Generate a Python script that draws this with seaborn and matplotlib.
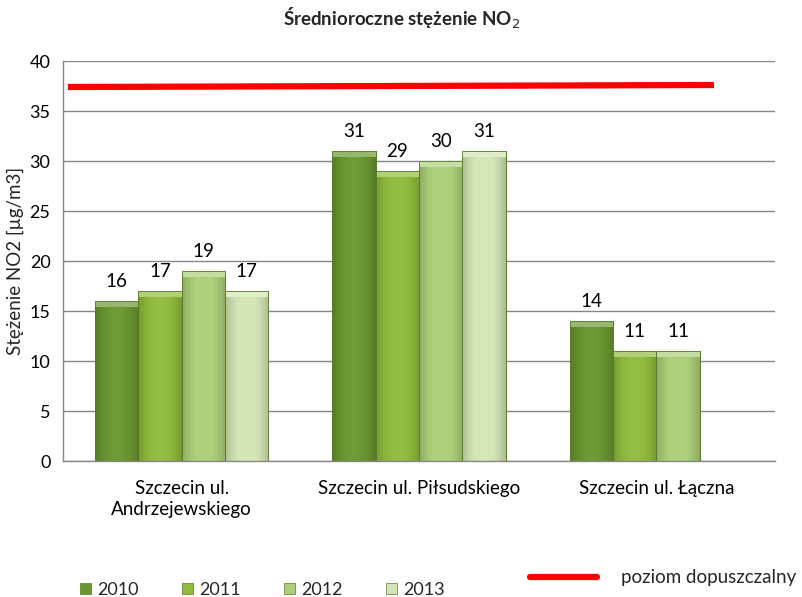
import numpy as np
import pandas as pd
import matplotlib
matplotlib.use("Agg")
import matplotlib.pyplot as plt
import seaborn as sns
from matplotlib.lines import Line2D
from matplotlib.patches import Rectangle

# ---- data ----
stations = ["Szczecin ul.\nAndrzejewskiego", "Szczecin ul. Piłsudskiego", "Szczecin ul. Łączna"]
years = ["2010", "2011", "2012", "2013"]
s_andrz = [16, 17, 19, 17]
s_pils = [31, 29, 30, 31]
s_lacz = [14, 11, 11, np.nan]
limit_line = [37.4, 37.6]  # red "poziom dopuszczalny" line (start, end)
colors = ["#6a9630", "#8fbb3c", "#abcf78", "#d3e5b5"]

rows = []
for st, vals in zip(stations, [s_andrz, s_pils, s_lacz]):
    for y, v in zip(years, vals):
        rows.append({"station": st, "year": y, "value": v})
df = pd.DataFrame(rows)

sns.set_theme(style="white")
plt.rcParams["font.family"] = ["Lato", "DejaVu Sans"]

fig = plt.figure(figsize=(8.03, 5.97), dpi=100)
ax = fig.add_axes([63 / 803, 1 - 461 / 597, 712 / 803, 400 / 597])

sns.barplot(data=df, x="station", y="value", hue="year", order=stations,
            hue_order=years, palette=colors, width=0.73, dodge=True,
            edgecolor="#5a7a2a", linewidth=0.6, legend=False, ax=ax, saturation=1)

# gradient / bevel look
def shade(c, f):
    c = np.array(matplotlib.colors.to_rgb(c))
    if f < 0:
        return c * (1 + f)
    return c + (1 - c) * f

for cont, col in zip(ax.containers, colors):
    for p in cont.patches:
        h = p.get_height()
        if not np.isfinite(h) or h <= 0:
            continue
        x0, w = p.get_x(), p.get_width()
        n = 64
        t = np.linspace(0, 1, n)
        prof = 1 - 4 * (t - 0.5) ** 2  # lighter in the middle
        img = np.array([shade(col, -0.18 + 0.22 * v) for v in prof])[None, :, :]
        im = ax.imshow(img, extent=[x0, x0 + w, 0, h], aspect="auto",
                       zorder=p.get_zorder() + 0.1, interpolation="bilinear")
        im.set_clip_path(p)
        # top bevel
        ax.add_patch(Rectangle((x0, h - 0.6), w, 0.6, facecolor=shade(col, 0.3),
                               edgecolor="none", zorder=p.get_zorder() + 0.2))
        ax.add_patch(Rectangle((x0, 0), w, h, facecolor="none", edgecolor="#5a7a2a",
                               linewidth=0.6, zorder=p.get_zorder() + 0.3))

for cont in ax.containers:
    labels = ["" if not np.isfinite(p.get_height()) else f"{p.get_height():.0f}" for p in cont.patches]
    ax.bar_label(cont, labels=labels, padding=8, fontsize=13.5, color="#000000")

# limit line
ax.plot([-0.479, 2.243], limit_line, color="#ff0000", linewidth=4.5, solid_capstyle="butt",
        zorder=5)

ax.set_xlim(-0.5, 2.5)
ax.set_ylim(0, 40)
ax.set_yticks(np.arange(0, 41, 5))
ax.yaxis.grid(True, color="#868686", linewidth=1)
ax.set_axisbelow(True)
for s in ["top", "right"]:
    ax.spines[s].set_visible(False)
for s in ["left", "bottom"]:
    ax.spines[s].set_color("#868686")
    ax.spines[s].set_linewidth(1)
ax.tick_params(axis="both", length=0, labelsize=13, colors="#000000", pad=9)
ax.tick_params(axis="x", labelsize=13.5, pad=14)
for lab in ax.get_xticklabels():
    lab.set_linespacing(1.25)
ax.set_xlabel("")
ax.set_ylabel("Stężenie NO2 [µg/m3]", fontsize=13.5, labelpad=4)

fig.text(0.5, 1 - 18 / 597, "Średnioroczne stężenie NO$_2$", ha="center", va="center",
         fontsize=13.5, fontweight="bold")

# legend
handles = [Rectangle((0, 0), 1, 1, facecolor=c, edgecolor="#5a7a2a", linewidth=0.5) for c in colors]
leg1 = fig.legend(handles, years, loc="center left", bbox_to_anchor=(73 / 803, 1 - 590 / 597),
                  ncol=4, frameon=False, fontsize=13, handlelength=0.6, handleheight=0.6,
                  handletextpad=0.35, columnspacing=2.4, borderaxespad=0)
leg2 = fig.legend([Line2D([0], [0], color="#ff0000", linewidth=4.5)], ["poziom dopuszczalny"],
                  loc="center left", bbox_to_anchor=(522 / 803, 1 - 578 / 597), frameon=False,
                  fontsize=13.5, handlelength=3.6, handletextpad=1.3, borderaxespad=0)

fig.savefig("out.png", dpi=100)
